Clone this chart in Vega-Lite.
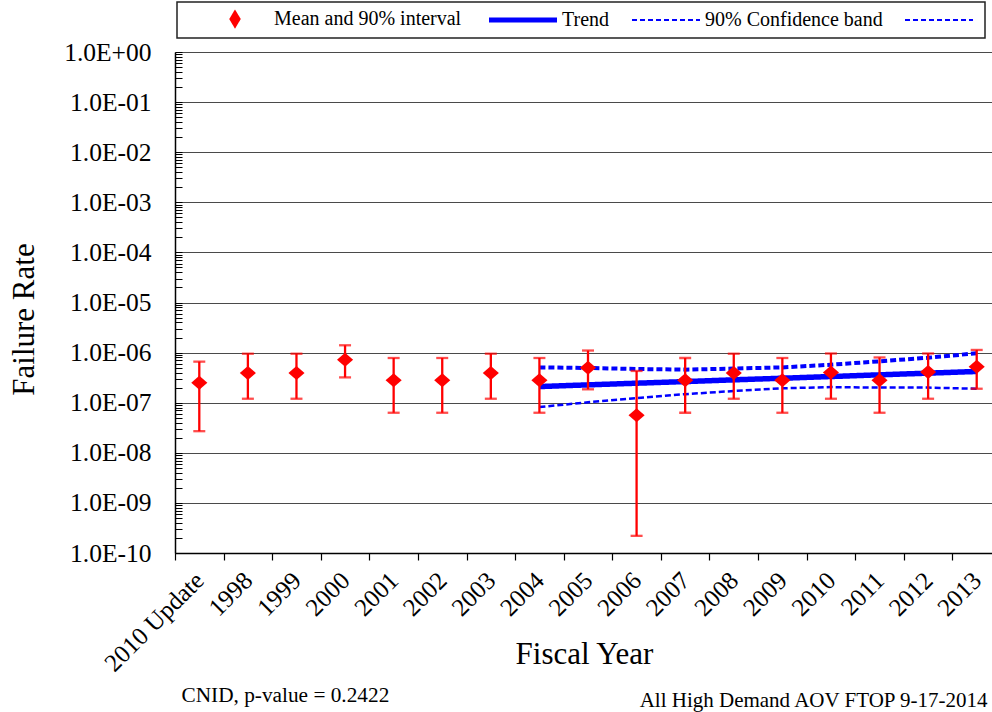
{
  "$schema": "https://vega.github.io/schema/vega-lite/v6.json",
  "width": 817,
  "height": 501,
  "autosize": {"type": "none"},
  "padding": {"left": 175, "top": 52, "right": 0, "bottom": 159},
  "background": "white",
  "config": {
    "font": "Liberation Serif",
    "view": {"stroke": null},
    "axis": {"labelColor": "black", "titleColor": "black", "titleFontWeight": "normal"}
  },
  "datasets": {
    "obs": [
      {"year": "2010 Update", "series": "Mean and 90% interval", "mean": 2.5e-7, "lo": 2.7e-8, "hi": 6.6e-7},
      {"year": "1998", "series": "Mean and 90% interval", "mean": 3.9e-7, "lo": 1.2e-7, "hi": 9.5e-7},
      {"year": "1999", "series": "Mean and 90% interval", "mean": 3.9e-7, "lo": 1.2e-7, "hi": 9.5e-7},
      {"year": "2000", "series": "Mean and 90% interval", "mean": 7.2e-7, "lo": 3.2e-7, "hi": 1.4e-6},
      {"year": "2001", "series": "Mean and 90% interval", "mean": 2.8e-7, "lo": 6.3e-8, "hi": 7.8e-7},
      {"year": "2002", "series": "Mean and 90% interval", "mean": 2.8e-7, "lo": 6.3e-8, "hi": 7.8e-7},
      {"year": "2003", "series": "Mean and 90% interval", "mean": 3.9e-7, "lo": 1.2e-7, "hi": 9.5e-7},
      {"year": "2004", "series": "Mean and 90% interval", "mean": 2.8e-7, "lo": 6.3e-8, "hi": 7.8e-7},
      {"year": "2005", "series": "Mean and 90% interval", "mean": 5.0e-7, "lo": 1.85e-7, "hi": 1.1e-6},
      {"year": "2006", "series": "Mean and 90% interval", "mean": 5.6e-8, "lo": 2.2e-10, "hi": 4.3e-7},
      {"year": "2007", "series": "Mean and 90% interval", "mean": 2.8e-7, "lo": 6.3e-8, "hi": 7.8e-7},
      {"year": "2008", "series": "Mean and 90% interval", "mean": 3.9e-7, "lo": 1.2e-7, "hi": 9.5e-7},
      {"year": "2009", "series": "Mean and 90% interval", "mean": 2.8e-7, "lo": 6.3e-8, "hi": 7.8e-7},
      {"year": "2010", "series": "Mean and 90% interval", "mean": 4.0e-7, "lo": 1.2e-7, "hi": 9.6e-7},
      {"year": "2011", "series": "Mean and 90% interval", "mean": 2.8e-7, "lo": 6.3e-8, "hi": 8.0e-7},
      {"year": "2012", "series": "Mean and 90% interval", "mean": 4.1e-7, "lo": 1.2e-7, "hi": 9.6e-7},
      {"year": "2013", "series": "Mean and 90% interval", "mean": 5.2e-7, "lo": 1.9e-7, "hi": 1.13e-6}
    ],
    "fit": [
      {"year": "2004", "series": "Trend", "value": 2.1e-7},
      {"year": "2005", "series": "Trend", "value": 2.27e-7},
      {"year": "2006", "series": "Trend", "value": 2.45e-7},
      {"year": "2007", "series": "Trend", "value": 2.64e-7},
      {"year": "2008", "series": "Trend", "value": 2.86e-7},
      {"year": "2009", "series": "Trend", "value": 3.08e-7},
      {"year": "2010", "series": "Trend", "value": 3.33e-7},
      {"year": "2011", "series": "Trend", "value": 3.6e-7},
      {"year": "2012", "series": "Trend", "value": 3.89e-7},
      {"year": "2013", "series": "Trend", "value": 4.2e-7},
      {"year": "2004", "series": "90% Confidence band", "value": 5.07e-7},
      {"year": "2005", "series": "90% Confidence band", "value": 4.93e-7},
      {"year": "2006", "series": "90% Confidence band", "value": 4.71e-7},
      {"year": "2007", "series": "90% Confidence band", "value": 4.57e-7},
      {"year": "2008", "series": "90% Confidence band", "value": 4.8e-7},
      {"year": "2009", "series": "90% Confidence band", "value": 5.07e-7},
      {"year": "2010", "series": "90% Confidence band", "value": 5.74e-7},
      {"year": "2011", "series": "90% Confidence band", "value": 6.7e-7},
      {"year": "2012", "series": "90% Confidence band", "value": 7.9e-7},
      {"year": "2013", "series": "90% Confidence band", "value": 9.7e-7},
      {"year": "2004", "series": "Lower band", "value": 8.2e-8},
      {"year": "2005", "series": "Lower band", "value": 1.02e-7},
      {"year": "2006", "series": "Lower band", "value": 1.23e-7},
      {"year": "2007", "series": "Lower band", "value": 1.48e-7},
      {"year": "2008", "series": "Lower band", "value": 1.71e-7},
      {"year": "2009", "series": "Lower band", "value": 1.94e-7},
      {"year": "2010", "series": "Lower band", "value": 2.05e-7},
      {"year": "2011", "series": "Lower band", "value": 2.0e-7},
      {"year": "2012", "series": "Lower band", "value": 2.0e-7},
      {"year": "2013", "series": "Lower band", "value": 1.9e-7}
    ]
  },
  "resolve": {"axis": {"x": "independent", "y": "independent"}},
  "layer": [
    {
      "data": {"name": "fit"},
      "mark": {"type": "line", "clip": true},
      "encoding": {
        "x": {
          "field": "year", "type": "nominal", "bandPosition": 0.5,
          "scale": {
            "type": "band", "paddingInner": 0, "paddingOuter": 0, "range": [0, 826],
            "domain": ["2010 Update", "1998", "1999", "2000", "2001", "2002", "2003", "2004", "2005", "2006", "2007", "2008", "2009", "2010", "2011", "2012", "2013"]
          },
          "axis": {
            "orient": "bottom",
            "title": "Fiscal Year",
            "titleFontSize": 31,
            "titleX": 409,
            "titleY": 110,
            "titleAnchor": "middle",
            "titleAlign": "center",
            "titleBaseline": "alphabetic",
            "labelAngle": -45,
            "labelAlign": "right",
            "labelBaseline": "middle",
            "labelFontSize": 25,
            "labelPadding": 16,
            "tickBand": "extent",
            "tickSize": 7,
            "tickColor": "black",
            "tickWidth": 1.2,
            "domainColor": "black",
            "domainWidth": 1.5,
            "grid": false,
            "labelOverlap": false
          }
        },
        "y": {
          "field": "value", "type": "quantitative",
          "scale": {"type": "log", "domain": [1e-10, 1], "nice": false},
          "axis": {
            "orient": "left",
            "title": "Failure Rate",
            "titleFontSize": 31,
            "titleX": -142,
            "titleY": 267,
            "titleAngle": -90,
            "titleAlign": "center",
            "titleBaseline": "alphabetic",
            "values": [1e-10, 1e-9, 1e-8, 1e-7, 1e-6, 1e-5, 1e-4, 1e-3, 1e-2, 1e-1, 1],
            "labelExpr": "'1.0E' + (round(log(datum.value) / LN10) >= 0 ? '+' : '-') + (abs(round(log(datum.value) / LN10)) < 10 ? '0' : '') + abs(round(log(datum.value) / LN10))",
            "labelFontSize": 25.5,
            "labelPadding": 24,
            "ticks": false,
            "domainColor": "black",
            "domainWidth": 1.5,
            "grid": true,
            "gridColor": "#4a4a4a",
            "gridWidth": 1.2
          }
        },
        "detail": {"field": "series"},
        "color": {
          "field": "series", "type": "nominal",
          "scale": {
            "domain": ["Mean and 90% interval", "Trend", "90% Confidence band", "Lower band"],
            "range": ["#ff0000", "#0000ff", "#0000ff", "#0000ff"]
          },
          "legend": {
            "orient": "none",
            "legendX": 2,
            "legendY": -50,
            "direction": "horizontal",
            "columns": 4,
            "title": null,
            "padding": 7,
            "columnPadding": 0,
            "labelOffset": 70,
            "labelFontSize": 20,
            "labelColor": "black",
            "labelLimit": 400,
            "labelExpr": "datum.value === 'Lower band' ? '' : datum.label",
            "symbolSize": 400,
            "symbolType": "M-1,0M0.7,0L7.5,0",
            "strokeColor": "#222222",
            "fillColor": "white",
            "encode": {
              "legend": {"update": {"strokeWidth": {"value": 1.5}}},
              "symbols": {
                "update": {
                  "shape": {"signal": "datum.value === 'Mean and 90% interval' ? 'M-1,0M3.65,0L4.1,-0.75L4.55,0L4.1,0.75Z' : 'M-1,0M0.7,0L7.5,0'"},
                  "fill": {"signal": "datum.value === 'Mean and 90% interval' ? '#ff0000' : 'transparent'"},
                  "stroke": {"signal": "datum.value === 'Mean and 90% interval' ? 'transparent' : '#0000ff'"},
                  "strokeWidth": {"signal": "datum.value === 'Trend' ? 5 : 2.2"},
                  "strokeDash": {"signal": "(datum.value === 'Trend' || datum.value === 'Mean and 90% interval') ? [1, 0] : [5, 3]"},
                  "size": {"value": 400},
                  "opacity": {"value": 1}
                }
              }
            }
          }
        },
        "strokeDash": {
          "field": "series", "type": "nominal",
          "scale": {"domain": ["Trend", "90% Confidence band", "Lower band"], "range": [[1, 0], [6, 3], [6, 3]]},
          "legend": null
        },
        "strokeWidth": {
          "field": "series", "type": "nominal",
          "scale": {"domain": ["Trend", "90% Confidence band", "Lower band"], "range": [5.5, 2.5, 2.5]},
          "legend": null
        }
      }
    },
    {
      "data": {"name": "obs"},
      "mark": {"type": "rule", "color": "#ff0000", "strokeWidth": 2.3},
      "encoding": {
        "x": {
          "field": "year", "type": "nominal", "bandPosition": 0.5,
          "axis": {
            "orient": "bottom",
            "title": "All High Demand AOV FTOP 9-17-2014",
            "titleFontSize": 21,
            "titleFontWeight": "normal",
            "titleX": 812,
            "titleY": 153,
            "titleAnchor": "end",
            "titleAlign": "right",
            "titleBaseline": "alphabetic",
            "labels": false,
            "ticks": false,
            "domain": false,
            "grid": false
          }
        },
        "y": {
          "field": "lo", "type": "quantitative",
          "axis": {
            "orient": "left",
            "title": null,
            "labels": false,
            "domain": false,
            "grid": false,
            "ticks": true,
            "tickSize": -7,
            "tickColor": "black",
            "tickWidth": 1,
            "values": [
              1e-10, 2e-10, 3e-10, 4e-10, 5e-10, 6e-10, 7e-10, 8e-10, 9e-10,
              1e-9, 2e-9, 3e-9, 4e-9, 5e-9, 6e-9, 7e-9, 8e-9, 9e-9,
              1e-8, 2e-8, 3e-8, 4e-8, 5e-8, 6e-8, 7e-8, 8e-8, 9e-8,
              1e-7, 2e-7, 3e-7, 4e-7, 5e-7, 6e-7, 7e-7, 8e-7, 9e-7,
              1e-6, 2e-6, 3e-6, 4e-6, 5e-6, 6e-6, 7e-6, 8e-6, 9e-6,
              1e-5, 2e-5, 3e-5, 4e-5, 5e-5, 6e-5, 7e-5, 8e-5, 9e-5,
              1e-4, 2e-4, 3e-4, 4e-4, 5e-4, 6e-4, 7e-4, 8e-4, 9e-4,
              1e-3, 2e-3, 3e-3, 4e-3, 5e-3, 6e-3, 7e-3, 8e-3, 9e-3,
              0.01, 0.02, 0.03, 0.04, 0.05, 0.06, 0.07, 0.08, 0.09,
              0.1, 0.2, 0.3, 0.4, 0.5, 0.6, 0.7, 0.8, 0.9, 1
            ]
          }
        },
        "y2": {"field": "hi"}
      }
    },
    {
      "data": {"name": "obs"},
      "mark": {"type": "tick", "color": "#ff0000", "size": 12, "thickness": 2.3, "orient": "horizontal"},
      "encoding": {
        "x": {
          "field": "year", "type": "nominal", "bandPosition": 0.5,
          "axis": {
            "orient": "bottom",
            "title": "CNID, p-value = 0.2422",
            "titleFontSize": 21.3,
            "titleFontWeight": "normal",
            "titleX": 6,
            "titleY": 148,
            "titleAnchor": "start",
            "titleAlign": "left",
            "titleBaseline": "alphabetic",
            "labels": false,
            "ticks": false,
            "domain": false,
            "grid": false
          }
        },
        "y": {"field": "lo", "type": "quantitative", "axis": null}
      }
    },
    {
      "data": {"name": "obs"},
      "mark": {"type": "tick", "color": "#ff0000", "size": 12, "thickness": 2.3, "orient": "horizontal"},
      "encoding": {
        "x": {"field": "year", "type": "nominal", "bandPosition": 0.5, "axis": null},
        "y": {"field": "hi", "type": "quantitative", "axis": null}
      }
    },
    {
      "data": {"name": "obs"},
      "mark": {"type": "point", "filled": true, "opacity": 1, "shape": "M-1,0L0,-0.87L1,0L0,0.87Z", "size": 260},
      "encoding": {
        "x": {"field": "year", "type": "nominal", "bandPosition": 0.5, "axis": null},
        "y": {"field": "mean", "type": "quantitative", "axis": null},
        "color": {"field": "series", "type": "nominal"}
      }
    }
  ]
}
